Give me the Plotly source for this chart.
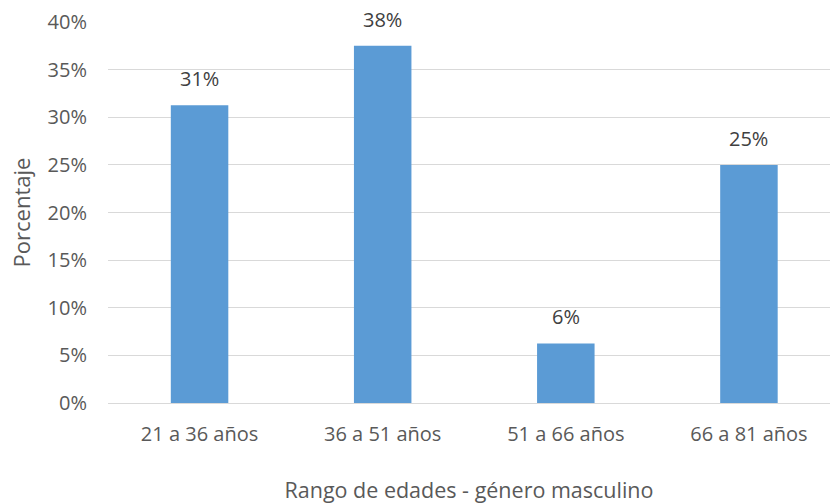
import plotly.graph_objects as go

categorias = ["21 a 36 años", "36 a 51 años", "51 a 66 años", "66 a 81 años"]
valores = [0.3125, 0.375, 0.0625, 0.25]
ticks_y = [0, 0.05, 0.10, 0.15, 0.20, 0.25, 0.30, 0.35, 0.40]
etiquetas_y = ["0%", "5%", "10%", "15%", "20%", "25%", "30%", "35%", "40%"]

FONT = "Open Sans"
fig = go.Figure()
fig.add_trace(go.Bar(
    x=list(range(len(categorias))), y=valores,
    marker=dict(color="#5B9BD5", line=dict(width=0)),
    width=0.314, hoverinfo="skip",
))
for i, v in enumerate(valores):
    fig.add_annotation(x=i, y=v, text=f"{round(v*100+1e-9):.0f}%", showarrow=False,
                       yanchor="bottom", yshift=11,
                       font=dict(family=FONT, size=20, color="#404040"))

fig.update_layout(
    width=830, height=504,
    margin=dict(l=108, r=0, t=22, b=101),
    paper_bgcolor="white", plot_bgcolor="white",
    showlegend=False,
    font=dict(family=FONT, size=20, color="#595959"),
    xaxis=dict(
        tickmode="array", tickvals=list(range(len(categorias))), ticktext=categorias,
        range=[-0.5, -0.5 + (830 - 108.5) / 183],
        showgrid=False, zeroline=False, showline=False,
        ticks="", ticklabelstandoff=17,
        tickfont=dict(family=FONT, size=20, color="#595959"),
        title=dict(text="Rango de edades - género masculino", standoff=36,
                   font=dict(family=FONT, size=21.5, color="#595959")),
    ),
    yaxis=dict(
        range=[0, 0.40], tickmode="array", tickvals=ticks_y, ticktext=etiquetas_y,
        showgrid=True, gridcolor="#D9D9D9", gridwidth=1.4,
        zeroline=True, zerolinecolor="#D9D9D9", zerolinewidth=1.4,
        showline=False, ticks="", ticklabelstandoff=20,
        tickfont=dict(family=FONT, size=20, color="#595959"),
        title=dict(text="Porcentaje", standoff=10,
                   font=dict(family=FONT, size=22, color="#595959")),
    ),
)
fig.write_html("out.html")
